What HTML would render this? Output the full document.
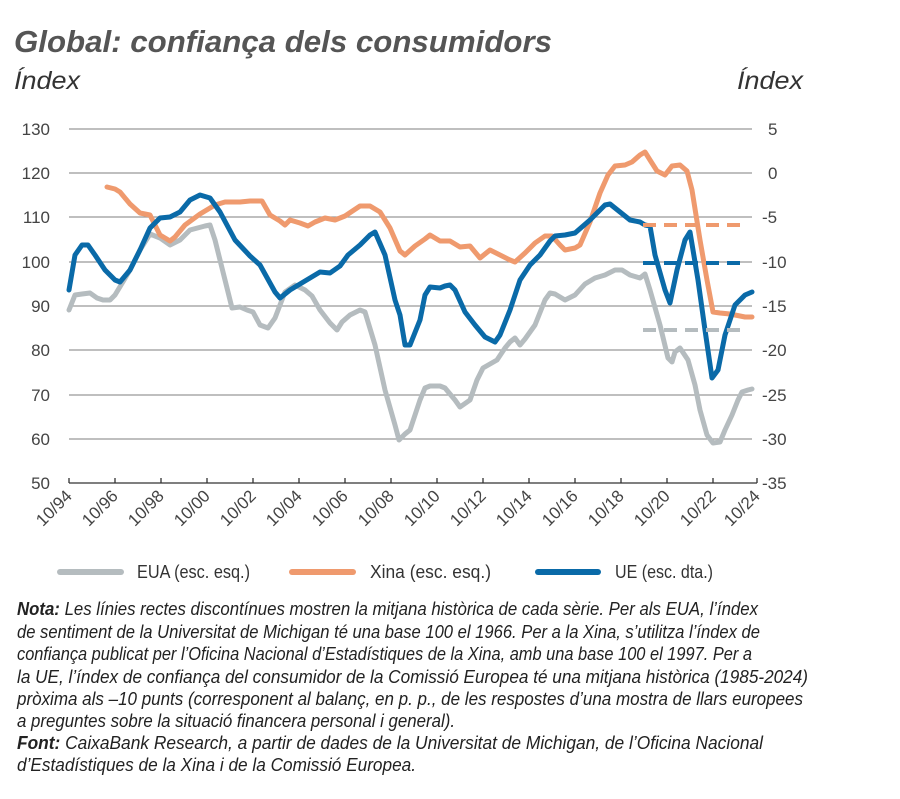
<!DOCTYPE html>
<html><head><meta charset="utf-8"><style>body{margin:0;background:#fff}svg{display:block}</style></head><body>
<svg width="900" height="799" viewBox="0 0 900 799" xmlns="http://www.w3.org/2000/svg" font-family="'Liberation Sans Narrow','Liberation Sans',sans-serif">
<text x="14" y="52" font-size="31" font-weight="bold" font-style="italic" fill="#555" textLength="538" lengthAdjust="spacingAndGlyphs">Global: confiança dels consumidors</text>
<text x="14" y="89" font-size="25" font-style="italic" fill="#333" textLength="66" lengthAdjust="spacingAndGlyphs">Índex</text>
<text x="737" y="89" font-size="25" font-style="italic" fill="#333" textLength="66" lengthAdjust="spacingAndGlyphs">Índex</text>
<g stroke="#999" stroke-width="1.3">
<line x1="69" y1="129" x2="752" y2="129"/><line x1="69" y1="173" x2="752" y2="173"/><line x1="69" y1="217" x2="752" y2="217"/><line x1="69" y1="262" x2="752" y2="262"/><line x1="69" y1="306" x2="752" y2="306"/><line x1="69" y1="350" x2="752" y2="350"/><line x1="69" y1="395" x2="752" y2="395"/><line x1="69" y1="439" x2="752" y2="439"/>
</g>
<g stroke="#333" stroke-width="1.3"><line x1="69" y1="483" x2="757" y2="483"/>
<path d="M69 483v-5M115 483v-5M161 483v-5M207 483v-5M253 483v-5M299 483v-5M345 483v-5M391 483v-5M437 483v-5M483 483v-5M529 483v-5M575 483v-5M621 483v-5M667 483v-5M713 483v-5M757 483v-5"/></g>
<g font-size="17" fill="#444" text-anchor="end">
<text x="50" y="135">130</text><text x="50" y="179">120</text><text x="50" y="223">110</text><text x="50" y="268">100</text><text x="50" y="312">90</text><text x="50" y="356">80</text><text x="50" y="401">70</text><text x="50" y="445">60</text><text x="50" y="489">50</text>
</g>
<g font-size="17" fill="#444">
<text x="768" y="135">5</text><text x="768" y="179">0</text><text x="762" y="223">-5</text><text x="762" y="268">-10</text><text x="762" y="312">-15</text><text x="762" y="356">-20</text><text x="762" y="401">-25</text><text x="762" y="445">-30</text><text x="762" y="489">-35</text>
</g>
<g font-size="17" fill="#444" text-anchor="end">
<text transform="translate(73,497) rotate(-45)">10/94</text><text transform="translate(119,497) rotate(-45)">10/96</text><text transform="translate(165,497) rotate(-45)">10/98</text><text transform="translate(211,497) rotate(-45)">10/00</text><text transform="translate(257,497) rotate(-45)">10/02</text><text transform="translate(303,497) rotate(-45)">10/04</text><text transform="translate(349,497) rotate(-45)">10/06</text><text transform="translate(395,497) rotate(-45)">10/08</text><text transform="translate(441,497) rotate(-45)">10/10</text><text transform="translate(487,497) rotate(-45)">10/12</text><text transform="translate(533,497) rotate(-45)">10/14</text><text transform="translate(579,497) rotate(-45)">10/16</text><text transform="translate(625,497) rotate(-45)">10/18</text><text transform="translate(671,497) rotate(-45)">10/20</text><text transform="translate(717,497) rotate(-45)">10/22</text><text transform="translate(761,497) rotate(-45)">10/24</text>
</g>
<g fill="none" stroke-width="5" stroke-linejoin="round" stroke-linecap="round">
<polyline stroke="#b5bcbf" points="69,310 75,295 82,294 90,293 97,298 103,300 110,300 115,295 130,270 140,250 150,234 160,238 170,245 180,240 190,230 205,226 210,225 215,240 225,280 232,308 240,307 247,310 253,312 260,325 268,328 275,318 285,292 295,285 305,290 312,296 320,310 330,323 337,330 342,322 350,315 360,310 365,312 375,345 385,390 395,425 399,440 405,434 410,430 420,400 425,388 430,386 440,386 445,388 455,400 460,407 470,400 477,380 483,368 490,364 497,360 505,348 510,342 515,338 520,345 525,339 535,325 545,300 550,293 555,294 565,300 575,295 585,284 595,278 605,275 615,270 622,270 630,275 640,278 645,274 650,290 660,325 668,358 672,362 675,352 680,348 688,360 695,385 700,410 707,435 713,443 720,442 725,430 732,415 738,400 742,392 748,390 752,389"/>
<polyline stroke="#ef9a6e" points="107,187 115,189 120,192 130,204 140,213 150,215 155,225 160,235 170,241 175,237 185,225 200,214 215,205 225,202 240,202 250,201 262,201 270,215 280,221 285,225 290,220 300,223 308,226 315,222 325,218 335,220 345,216 360,206 370,206 380,212 390,228 400,251 405,255 415,246 425,239 430,235 440,241 450,241 460,247 470,246 480,258 490,250 500,255 510,260 515,262 525,253 535,243 545,236 552,236 560,245 565,250 575,248 580,245 590,222 600,193 608,175 615,166 625,165 632,162 640,155 645,152 650,160 657,171 665,175 672,166 680,165 687,171 692,190 700,240 707,280 713,312 720,313 730,314 740,316 745,317 752,317"/>
<polyline stroke="#0a6aa8" points="69,290 75,255 82,245 88,245 95,255 105,270 115,280 120,282 130,270 140,250 150,228 160,218 170,217 180,212 190,200 200,195 210,198 220,212 235,240 250,256 260,265 275,292 280,298 290,290 300,284 310,278 320,272 330,273 340,266 348,255 360,245 370,235 375,232 385,255 395,300 400,315 405,345 410,345 420,320 425,295 430,287 440,288 445,286 450,285 455,290 465,312 475,325 485,337 495,342 500,335 510,310 520,280 530,265 540,255 550,241 555,236 565,235 575,233 590,220 605,205 610,204 620,212 630,220 640,222 645,225 650,226 655,255 665,290 670,303 677,270 685,240 690,232 698,280 705,330 712,378 718,370 725,335 735,305 745,295 752,292"/>
</g>
<g stroke-width="4" stroke-dasharray="13,8">
<line x1="643" y1="225" x2="748" y2="225" stroke="#ef9a6e"/>
<line x1="643" y1="263" x2="748" y2="263" stroke="#0a6aa8"/>
<line x1="643" y1="330" x2="748" y2="330" stroke="#b5bcbf"/>
</g>
<g stroke-width="6" stroke-linecap="round">
<line x1="60" y1="572" x2="121" y2="572" stroke="#b5bcbf"/>
<line x1="292" y1="572" x2="353" y2="572" stroke="#ef9a6e"/>
<line x1="538" y1="572" x2="598" y2="572" stroke="#0a6aa8"/>
</g>
<g font-size="18" fill="#333">
<text x="137" y="578" textLength="113" lengthAdjust="spacingAndGlyphs">EUA (esc. esq.)</text>
<text x="370" y="578" textLength="121" lengthAdjust="spacingAndGlyphs">Xina (esc. esq.)</text>
<text x="615" y="578" textLength="98" lengthAdjust="spacingAndGlyphs">UE (esc. dta.)</text>
</g>
<g font-size="18" font-style="italic" fill="#222" lengthAdjust="spacingAndGlyphs">
<text x="17" y="615" textLength="741" lengthAdjust="spacingAndGlyphs"><tspan font-weight="bold">Nota:</tspan> Les línies rectes discontínues mostren la mitjana històrica de cada sèrie. Per als EUA, l’índex</text>
<text x="17" y="638" textLength="743" lengthAdjust="spacingAndGlyphs">de sentiment de la Universitat de Michigan té una base 100 el 1966. Per a la Xina, s’utilitza l’índex de</text>
<text x="17" y="660" textLength="735" lengthAdjust="spacingAndGlyphs">confiança publicat per l’Oficina Nacional d’Estadístiques de la Xina, amb una base 100 el 1997. Per a</text>
<text x="17" y="683" textLength="791" lengthAdjust="spacingAndGlyphs">la UE, l’índex de confiança del consumidor de la Comissió Europea té una mitjana històrica (1985-2024)</text>
<text x="17" y="705" textLength="786" lengthAdjust="spacingAndGlyphs">pròxima als –10 punts (corresponent al balanç, en p. p., de les respostes d’una mostra de llars europees</text>
<text x="17" y="727" textLength="438" lengthAdjust="spacingAndGlyphs">a preguntes sobre la situació financera personal i general).</text>
<text x="17" y="749" textLength="746" lengthAdjust="spacingAndGlyphs"><tspan font-weight="bold">Font:</tspan> CaixaBank Research, a partir de dades de la Universitat de Michigan, de l’Oficina Nacional</text>
<text x="17" y="771" textLength="399" lengthAdjust="spacingAndGlyphs">d’Estadístiques de la Xina i de la Comissió Europea.</text>
</g>
</svg>
</body></html>
